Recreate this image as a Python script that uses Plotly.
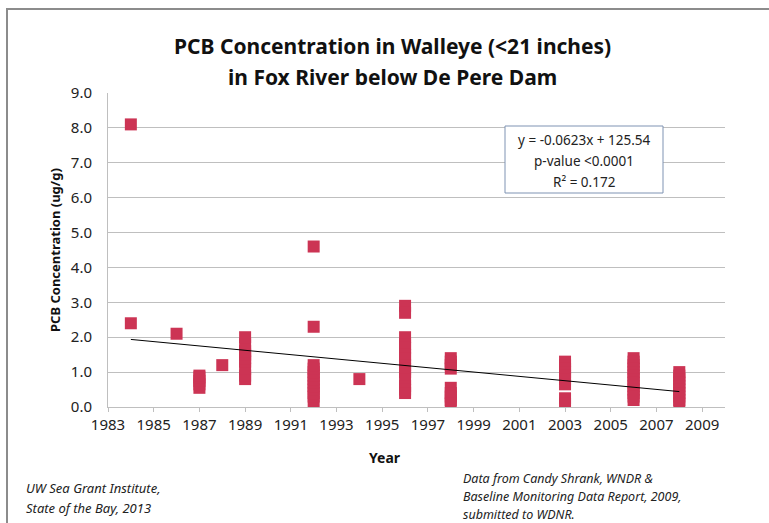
import plotly.graph_objects as go

# PCB concentration in walleye (<21 in), Fox River below De Pere Dam
years = [1984, 1984,
         1986,
         1987, 1987, 1987, 1987, 1987,
         1988,
         1989, 1989, 1989, 1989, 1989, 1989, 1989, 1989, 1989,
         1992, 1992, 1992, 1992, 1992, 1992, 1992, 1992, 1992, 1992, 1992, 1992, 1992,
         1994,
         1996, 1996, 1996, 1996, 1996, 1996, 1996, 1996, 1996, 1996, 1996, 1996, 1996, 1996,
         1998, 1998, 1998, 1998, 1998, 1998, 1998, 1998, 1998,
         2003, 2003, 2003, 2003, 2003, 2003, 2003, 2003, 2003,
         2006, 2006, 2006, 2006, 2006, 2006, 2006, 2006, 2006, 2006, 2006, 2006, 2006,
         2008, 2008, 2008, 2008, 2008, 2008, 2008, 2008, 2008, 2008]
pcb_ug_g = [8.1, 2.4,
            2.1,
            0.55, 0.65, 0.75, 0.85, 0.9,
            1.2,
            0.8, 0.9, 1.1, 1.3, 1.4, 1.5, 1.6, 1.8, 2.0,
            4.6, 2.3, 0.15, 0.3, 0.4, 0.5, 0.6, 0.7, 0.8, 0.9, 1.0, 1.1, 1.2,
            0.8,
            2.9, 2.7, 2.0, 1.8, 1.7, 1.5, 1.4, 1.2, 1.1, 1.0, 0.8, 0.6, 0.5, 0.4,
            1.4, 1.3, 1.2, 1.1, 0.55, 0.4, 0.3, 0.2, 0.1,
            1.3, 1.2, 1.1, 1.0, 0.9, 0.8, 0.65, 0.25, 0.1,
            1.4, 1.3, 1.2, 1.1, 1.0, 0.9, 0.8, 0.7, 0.6, 0.5, 0.4, 0.3, 0.2,
            1.0, 0.9, 0.8, 0.7, 0.6, 0.5, 0.4, 0.3, 0.2, 0.1]

# Linear trend as reported: y = -0.0623x + 125.54
trend_slope = -0.0623
trend_intercept = 125.54
trend_years = [1984, 2008]

x_ticks = list(range(1983, 2010, 2))
y_ticks = [0, 1, 2, 3, 4, 5, 6, 7, 8, 9]

title_lines = ["PCB Concentration in Walleye (<21 inches)",
               "in Fox River below De Pere Dam"]
stats_lines = ["y = -0.0623x + 125.54", "p-value <0.0001", "R² = 0.172"]
credit_left = ["UW Sea Grant Institute,", "State of the Bay, 2013"]
credit_right = ["Data from Candy Shrank, WNDR &",
                "Baseline Monitoring Data Report, 2009,",
                "submitted to WDNR."]

W, H = 769, 523
L, R, T, B = 108, 725, 93, 407  # plot area in pixels


def px(x):
    return (x - L) / (R - L)


def py(y):
    return (B - y) / (B - T)


def label(text, x, y, size, xanchor="center", color="#222222", **kw):
    return dict(text=text, xref="paper", yref="paper", x=px(x), y=py(y),
                xanchor=xanchor, yanchor="middle", showarrow=False,
                font=dict(size=size, color=color), **kw)


FONT = "Noto Sans"
marker_color = "rgb(204,52,84)"

fig = go.Figure()
fig.add_trace(go.Scatter(
    x=years, y=pcb_ug_g, mode="markers",
    marker=dict(symbol="square", size=12, color=marker_color,
                line=dict(width=0)),
    showlegend=False,
))
fig.add_trace(go.Scatter(
    x=trend_years, y=[trend_slope * t + trend_intercept for t in trend_years],
    mode="lines", line=dict(color="black", width=1), showlegend=False,
))

annotations = []
for i, line in enumerate(title_lines):
    annotations.append(label(f"<b>{line}</b>", 392, 46 + 31 * i, 21,
                             color="#111111"))
annotations.append(label("<b>PCB Concentration (ug/g)</b>", 55, 250, 13,
                         color="#111111", textangle=-90))
annotations.append(label("<b>Year</b>", 385, 457, 14, color="#111111"))
for i, line in enumerate(stats_lines):
    annotations.append(label(line, 584, 140 + 21 * i, 13.5))
for i, line in enumerate(credit_left):
    annotations.append(label(f"<i>{line}</i>", 24, 488 + 20 * i, 13,
                             xanchor="left"))
for i, line in enumerate(credit_right):
    annotations.append(label(f"<i>{line}</i>", 461, 478 + 18 * i, 12.5,
                             xanchor="left"))

fig.update_layout(
    width=W, height=H,
    margin=dict(l=L, r=W - R, t=T, b=H - B),
    paper_bgcolor="white", plot_bgcolor="white",
    font=dict(family=FONT, color="#222222"),
    xaxis=dict(range=[1983, 2010], tickvals=x_ticks,
               tickfont=dict(size=15, color="#222222"),
               showgrid=False, zeroline=False,
               showline=True, linecolor="#bfbfbf", linewidth=1,
               ticks="outside", ticklen=4, tickcolor="#bfbfbf"),
    yaxis=dict(range=[0, 9], tickvals=y_ticks,
               tickformat=".1f",
               tickfont=dict(size=15, color="#222222"),
               showgrid=True, gridcolor="#bfbfbf", gridwidth=1,
               zeroline=False,
               showline=True, linecolor="#bfbfbf", linewidth=1,
               ticks="", ticklabelstandoff=12),
    shapes=[
        # chart frame
        dict(type="rect", xref="paper", yref="paper",
             x0=px(7), x1=px(780), y0=py(535), y1=py(9),
             line=dict(color="#8c8c8c", width=2), layer="below"),
        # regression box
        dict(type="rect", xref="paper", yref="paper",
             x0=px(505), x1=px(663), y0=py(193), y1=py(126),
             line=dict(color="#7f93b3", width=1), fillcolor="white"),
    ],
    annotations=annotations,
)

fig.write_html("out.html")
